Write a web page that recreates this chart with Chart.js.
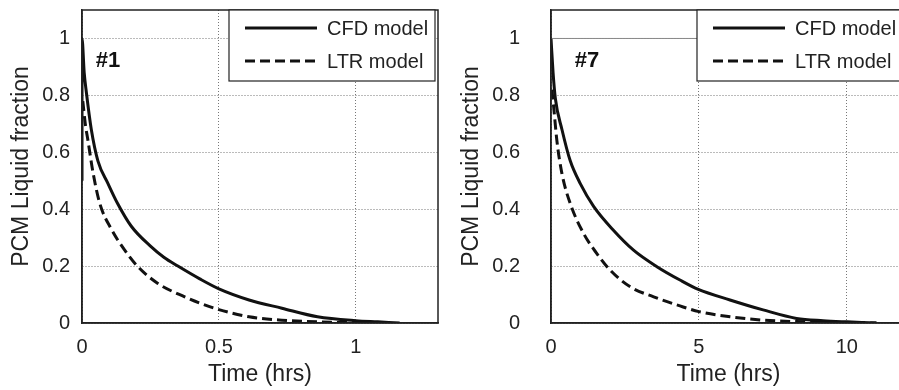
<!DOCTYPE html>
<html>
<head>
<meta charset="utf-8">
<script src="https://cdn.jsdelivr.net/npm/chart.js@4.4.0/dist/chart.umd.min.js"></script>
<style>
  html, body { margin: 0; padding: 0; background: #fff; overflow: hidden; }
  body { width: 899px; height: 390px; position: relative; }
  #left { position: absolute; left: 0; top: 0; }
  #right { position: absolute; left: 450px; top: 0; }
</style>
</head>
<body>
<canvas id="left" width="450" height="390"></canvas>
<canvas id="right" width="470" height="390"></canvas>
<script>
// Panel #1 - temps en heures / fraction liquide
const timeCfd1 = [0, 0, 0.008, 0.016, 0.034, 0.058, 0.095, 0.13, 0.18, 0.25, 0.30, 0.35, 0.43, 0.5, 0.61, 0.73, 0.86, 1.0, 1.08, 1.16];
const fracCfd1 = [0.5, 1.0, 0.88, 0.81, 0.68, 0.57, 0.49, 0.42, 0.34, 0.27, 0.23, 0.20, 0.155, 0.12, 0.081, 0.052, 0.022, 0.008, 0.004, 0.0];
const timeLtr1 = [0.003, 0.012, 0.022, 0.04, 0.065, 0.107, 0.156, 0.204, 0.277, 0.375, 0.43, 0.5, 0.61, 0.73, 0.86, 1.0, 1.1];
const fracLtr1 = [0.78, 0.70, 0.64, 0.53, 0.42, 0.33, 0.256, 0.198, 0.139, 0.092, 0.07, 0.047, 0.022, 0.01, 0.004, 0.001, 0.0];

// Panel #7
const timeCfd7 = [0, 0.07, 0.146, 0.37, 0.65, 0.99, 1.44, 2.11, 2.79, 3.58, 4.36, 4.98, 6.05, 7.17, 8.3, 9.2, 10.0, 10.5, 11.0];
const fracCfd7 = [1.0, 0.88, 0.79, 0.68, 0.57, 0.49, 0.41, 0.326, 0.256, 0.198, 0.151, 0.118, 0.081, 0.046, 0.016, 0.008, 0.004, 0.002, 0.0];
const timeLtr7 = [0.03, 0.09, 0.2, 0.37, 0.65, 1.1, 1.55, 2.0, 2.68, 3.47, 4.36, 5.0, 6.05, 7.17, 8.3, 9.5, 11.0];
const fracLtr7 = [0.82, 0.76, 0.64, 0.525, 0.42, 0.315, 0.244, 0.186, 0.127, 0.092, 0.06, 0.04, 0.022, 0.01, 0.005, 0.002, 0.0];
// trait gris horizontal a y=1 visible sur le panneau #7
const timeRef7 = [0, 5];
const fracRef7 = [1, 1];

// Graduations
const yTicks = [0, 0.2, 0.4, 0.6, 0.8, 1];
const xTicks1 = [0, 0.5, 1];
const xTicks7 = [0, 5, 10];

const FONT = "'Liberation Sans', Arial, Helvetica, sans-serif";

function toPoints(xs, ys) {
    return xs.map((x, i) => ({ x, y: ys[i] }));
}

// Cadre, légende et étiquette "#n" dessinés dans la zone du graphique
const framePlugin = {
    id: 'frameLegend',
    afterDraw(chart, args, opts) {
        const { ctx, chartArea: a, scales } = chart;
        ctx.save();
        // cadre
        ctx.strokeStyle = '#222';
        ctx.lineWidth = 1.5;
        ctx.strokeRect(a.left, a.top, a.right - a.left, a.bottom - a.top);

        // étiquette
        ctx.fillStyle = '#111';
        ctx.font = 'bold 22px ' + FONT;
        ctx.textBaseline = 'alphabetic';
        ctx.textAlign = 'left';
        ctx.fillText(opts.tag, scales.x.getPixelForValue(opts.tagX), scales.y.getPixelForValue(opts.tagY));

        // légende
        const w = 206, h = 71;
        const bx = a.right - 3 - w, by = a.top;
        ctx.fillStyle = '#fff';
        ctx.fillRect(bx, by, w, h);
        ctx.strokeStyle = '#222';
        ctx.lineWidth = 1.2;
        ctx.strokeRect(bx, by, w, h);
        const items = chart.data.datasets.filter(d => d.label);
        items.forEach((d, i) => {
            const ly = by + 18 + i * 33;
            ctx.strokeStyle = d.borderColor;
            ctx.lineWidth = d.borderWidth;
            ctx.setLineDash(d.borderDash || []);
            ctx.beginPath();
            ctx.moveTo(bx + 16, ly);
            ctx.lineTo(bx + 88, ly);
            ctx.stroke();
            ctx.setLineDash([]);
            ctx.fillStyle = '#222';
            ctx.font = '20px ' + FONT;
            ctx.textBaseline = 'middle';
            ctx.fillText(d.label, bx + 98, ly + 1);
        });
        ctx.restore();
    }
};

function makeChart(id, datasets, xMax, xTicks, yWidth, padRight, tag) {
    const ctx = document.getElementById(id).getContext('2d');
    return new Chart(ctx, {
        type: 'scatter',
        data: { datasets },
        options: {
            responsive: false,
            animation: false,
            layout: { padding: { top: 10, right: padRight, left: 0, bottom: 0 } },
            plugins: {
                legend: { display: false },
                tooltip: { enabled: false },
                frameLegend: tag
            },
            scales: {
                x: {
                    type: 'linear',
                    min: 0,
                    max: xMax,
                    afterBuildTicks: s => { s.ticks = xTicks.map(v => ({ value: v })); },
                    afterFit: s => { s.height = 67; s.paddingLeft = 0; s.paddingRight = 0; },
                    grid: { color: '#777', lineWidth: 1, drawTicks: false },
                    border: { display: true, color: '#222', width: 1.5, dash: [1, 2] },
                    ticks: { padding: 12, minRotation: 0, maxRotation: 0, color: '#222', font: { family: FONT, size: 20 }, callback: v => String(v) },
                    title: { display: true, text: 'Time (hrs)', color: '#222', font: { family: FONT, size: 23 }, padding: { top: 0, bottom: 2 } }
                },
                y: {
                    type: 'linear',
                    min: 0,
                    max: 1.1,
                    afterBuildTicks: s => { s.ticks = yTicks.map(v => ({ value: v })); },
                    afterFit: s => { s.width = yWidth; s.paddingTop = 0; s.paddingBottom = 0; },
                    grid: { color: '#777', lineWidth: 1, drawTicks: false },
                    border: { display: true, color: '#222', width: 1.5, dash: [1, 2] },
                    ticks: { padding: yWidth - 70, color: '#222', font: { family: FONT, size: 20 }, callback: v => String(v) },
                    title: { display: true, text: 'PCM Liquid fraction', color: '#222', font: { family: FONT, size: 23 }, padding: { top: 8, bottom: 0 } }
                }
            }
        },
        plugins: [framePlugin]
    });
}

function curve(label, xs, ys, dash) {
    return {
        label,
        data: toPoints(xs, ys),
        showLine: true,
        borderColor: '#111',
        borderWidth: 3,
        borderDash: dash,
        pointRadius: 0,
        cubicInterpolationMode: 'monotone',
        fill: false
    };
}

makeChart('left', [
    curve('CFD model', timeCfd1, fracCfd1, []),
    curve('LTR model', timeLtr1, fracLtr1, [10, 5])
], 1.3, xTicks1, 82, 12, { tag: '#1', tagX: 0.05, tagY: 0.9 });

makeChart('right', [
    { data: toPoints(timeRef7, fracRef7), showLine: true, borderColor: '#888', borderWidth: 1, pointRadius: 0 },
    curve('CFD model', timeCfd7, fracCfd7, []),
    curve('LTR model', timeLtr7, fracLtr7, [10, 5])
], 12, xTicks7, 101, 14, { tag: '#7', tagX: 0.8, tagY: 0.9 });
</script>
</body>
</html>
